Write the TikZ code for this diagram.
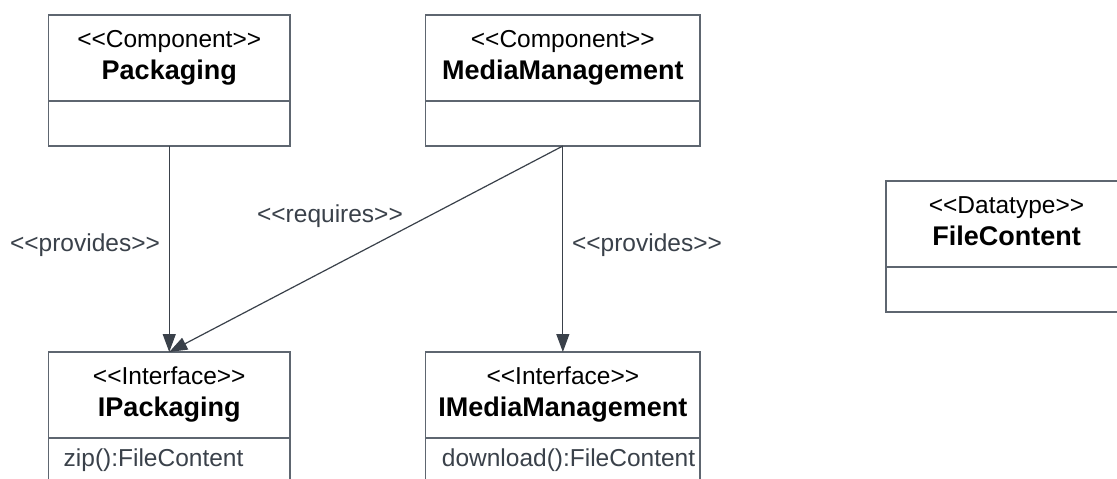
\documentclass[tikz,border=0pt]{standalone}
\usepackage{fontspec}
\setmainfont{Liberation Sans}[Ligatures=TeXOff]
\usetikzlibrary{arrows.meta}
\definecolor{boxline}{HTML}{5E6670}
\definecolor{wire}{HTML}{3A414A}
\definecolor{inktext}{HTML}{3A414A}

\begin{document}
\begin{tikzpicture}[x=1pt,y=-1pt,
  classbox/.style={draw=boxline, line width=1.4pt, fill=white, inner sep=0pt, outer sep=0pt},
  divider/.style={draw=boxline, line width=1.4pt},
  stereo/.style={anchor=base, inner sep=0pt, font=\fontsize{24.5}{29}\selectfont},
  cname/.style={anchor=base, inner sep=0pt, font=\fontsize{27}{32}\selectfont\bfseries},
  method/.style={anchor=base west, inner sep=0pt, text=inktext, font=\fontsize{24.5}{29}\selectfont},
  rel/.style={draw=wire, line width=1.2pt, -{Triangle[length=18pt,width=13pt]}},
  rellabel/.style={anchor=base, inner sep=0pt, text=inktext, font=\fontsize{24.5}{29}\selectfont}
]
\path[use as bounding box, fill=white] (0,0) rectangle (1117,479);

% class boxes
\node[classbox, minimum width=241.5pt, minimum height=131pt] (pkg)  at (169.25, 80.5) {};
\node[classbox, minimum width=274.3pt, minimum height=131pt] (mm)   at (562.85, 80.5) {};
\node[classbox, minimum width=241pt,   minimum height=131pt] (fc)   at (1006.5, 246.5) {};
\node[classbox, minimum width=241.5pt, minimum height=160pt] (ipkg) at (169.25, 432) {};
\node[classbox, minimum width=274.3pt, minimum height=160pt] (imm)  at (562.85, 432) {};

% compartment dividers
\foreach \b in {pkg,mm,fc,ipkg,imm}
  \draw[divider] ([yshift=-86pt]\b.north west) -- ([yshift=-86pt]\b.north east);

% headers
\node[stereo] (pkgst)  at ([yshift=-32.5pt]pkg.north)  {<<Component>>};
\node[cname]  (pkgnm)  at ([yshift=-64.5pt]pkg.north)  {Packaging};
\node[stereo] (mmst)   at ([yshift=-32.5pt]mm.north)   {<<Component>>};
\node[cname]  (mmnm)   at ([yshift=-64.5pt]mm.north)   {MediaManagement};
\node[stereo] (fcst)   at ([yshift=-32.5pt]fc.north)   {<<Datatype>>};
\node[cname]  (fcnm)   at ([yshift=-64.5pt]fc.north)   {FileContent};
\node[stereo] (ipkgst) at ([yshift=-32pt]ipkg.north)   {<<Interface>>};
\node[cname]  (ipkgnm) at ([yshift=-64.5pt]ipkg.north) {IPackaging};
\node[stereo] (immst)  at ([yshift=-32pt]imm.north)    {<<Interface>>};
\node[cname]  (immnm)  at ([yshift=-64.5pt]imm.north)  {IMediaManagement};

% operations
\node[method] (zipop) at ([xshift=15pt, yshift=-114pt]ipkg.north west) {zip():FileContent};
\node[method] (dlop)  at ([xshift=16pt, yshift=-114pt]imm.north west)  {download():FileContent};

% relations
\draw[rel] (pkg.south) -- (ipkg.north);
\draw[rel] (mm.south) -- (imm.north);
\draw[rel] (mm.south) -- (ipkg.north);

\node[rellabel] (provA) at (85, 251)  {<<provides>>};
\node[rellabel] (req)   at (330, 222) {<<requires>>};
\node[rellabel] (provB) at (647, 251) {<<provides>>};
\end{tikzpicture}
\end{document}
